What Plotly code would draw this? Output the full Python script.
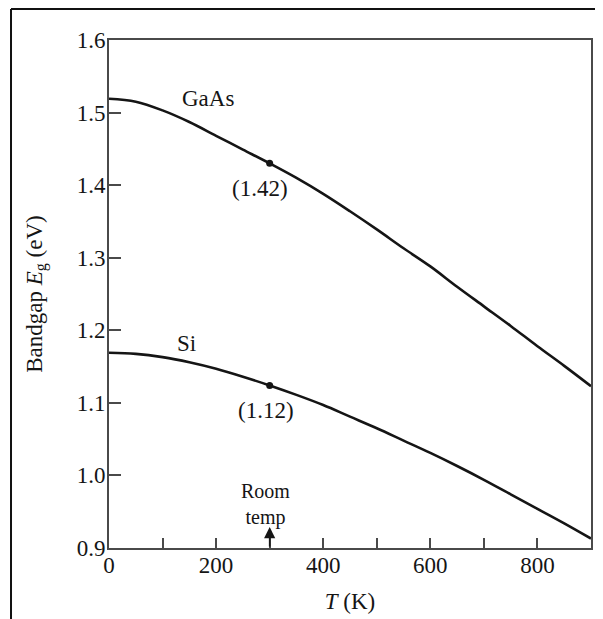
import plotly.graph_objects as go

# Temperature grid (K) and bandgap values (eV)
T_K = [0, 50, 100, 150, 200, 250, 300, 350, 400, 450, 500,
       550, 600, 650, 700, 750, 800, 850, 900]
GaAs_Eg = [1.519, 1.515, 1.503, 1.487, 1.468, 1.449, 1.430, 1.410, 1.388, 1.364, 1.339,
           1.313, 1.288, 1.260, 1.233, 1.206, 1.178, 1.151, 1.123]
Si_Eg = [1.169, 1.1675, 1.163, 1.156, 1.147, 1.136, 1.124, 1.111, 1.097, 1.081, 1.065,
         1.048, 1.031, 1.013, 0.994, 0.974, 0.954, 0.934, 0.913]

# Room-temperature points
room_T = [300]
GaAs_rt = [1.430]
Si_rt = [1.124]

x_ticks = [0, 200, 400, 600, 800]
x_tick_labels = ["0", "200", "400", "600", "800"]
y_ticks = [0.9, 1.0, 1.1, 1.2, 1.3, 1.4, 1.5, 1.6]
y_tick_labels = ["0.9", "1.0", "1.1", "1.2", "1.3", "1.4", "1.5", "1.6"]

FONT = "Liberation Serif, Times New Roman, serif"
INK = "#151515"
AX = "#4a4a4a"
FS = 23

fig = go.Figure()
fig.add_trace(go.Scatter(x=T_K, y=GaAs_Eg, mode="lines", line=dict(color=INK, width=2.6, shape="spline"),
                         showlegend=False, hoverinfo="skip"))
fig.add_trace(go.Scatter(x=T_K, y=Si_Eg, mode="lines", line=dict(color=INK, width=2.6, shape="spline"),
                         showlegend=False, hoverinfo="skip"))
fig.add_trace(go.Scatter(x=room_T, y=GaAs_rt, mode="markers", marker=dict(color=INK, size=7),
                         showlegend=False, hoverinfo="skip"))
fig.add_trace(go.Scatter(x=room_T, y=Si_rt, mode="markers", marker=dict(color=INK, size=7),
                         showlegend=False, hoverinfo="skip"))

font = dict(family=FONT, size=FS, color=INK)
annotations = [
    dict(x=185, y=1.519, text="GaAs", size=FS),
    dict(x=282, y=1.395, text="(1.42)", size=FS),
    dict(x=144, y=1.182, text="Si", size=FS),
    dict(x=294, y=1.090, text="(1.12)", size=FS),
    dict(x=293, y=0.960, text="Room<br>temp", size=20),
]
for a in annotations:
    fig.add_annotation(x=a["x"], y=a["y"], text=a["text"], showarrow=False,
                       font=dict(family=FONT, size=a["size"], color=INK),
                       xref="x", yref="y", xanchor="center", yanchor="middle")

# Room temperature arrow
fig.add_annotation(x=room_T[0], y=0.929, ax=room_T[0], ay=0.9, xref="x", yref="y",
                   axref="x", ayref="y", text="", showarrow=True, arrowhead=2,
                   arrowsize=1.4, arrowwidth=1.6, arrowcolor=INK)

# Outer frame (left and top edges of the scanned box), in plot-area paper units
fig.add_shape(type="line", xref="paper", yref="paper", x0=-0.2033, x1=-0.2033, y0=1.061, y1=-0.2,
              line=dict(color="#111", width=2))
fig.add_shape(type="line", xref="paper", yref="paper", x0=-0.2033, x1=1.1, y0=1.061, y1=1.061,
              line=dict(color="#111", width=2))

fig.update_xaxes(range=[0, 900], tickvals=x_ticks, ticktext=x_tick_labels,
                 ticks="inside", ticklen=10, tickwidth=1.5, tickcolor=AX,
                 minor=dict(dtick=100, tick0=0, ticks="inside", ticklen=10, tickwidth=1.5, tickcolor=AX),
                 showline=True, linecolor=AX, linewidth=2, mirror=True,
                 showgrid=False, zeroline=False, tickfont=font, ticklabelstandoff=-5,
                 title=dict(text="<i>T</i> (K)", font=font, standoff=16))
fig.update_yaxes(range=[0.9, 1.6], tickvals=y_ticks, ticktext=y_tick_labels,
                 ticks="inside", ticklen=12, tickwidth=1.5, tickcolor=AX,
                 showline=True, linecolor=AX, linewidth=2, mirror=True,
                 showgrid=False, zeroline=False, tickfont=font, ticklabelstandoff=-3,
                 title=dict(text="Bandgap <i>E</i><sub>g</sub> (eV)", font=font, standoff=28))

# The page body adds an 8px offset, so the figure is sized to fit the remaining window
fig.update_layout(width=595, height=611, margin=dict(l=101, r=12, t=32, b=71, autoexpand=False),
                  plot_bgcolor="white", paper_bgcolor="white", font=font)

fig.write_html("out.html")
